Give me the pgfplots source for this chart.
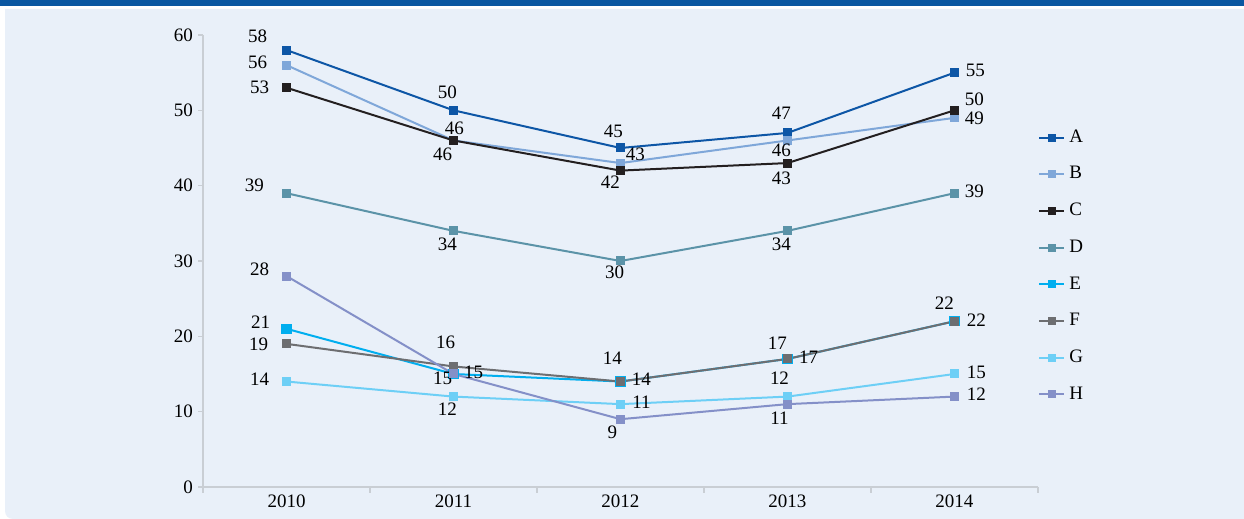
\documentclass[border=0pt]{standalone}
\usepackage{pgfplots}
\pgfplotsset{compat=1.18}
\usepackage{fontspec}
\setmainfont{Liberation Serif}

\definecolor{band}{HTML}{0A57A1}
\definecolor{panel}{HTML}{E9F0F9}
\definecolor{axisgray}{HTML}{C9CED4}
\definecolor{cA}{HTML}{0D56A6}
\definecolor{cB}{HTML}{7FA7D9}
\definecolor{cC}{HTML}{231F20}
\definecolor{cD}{HTML}{5B93A8}
\definecolor{cE}{HTML}{00AEEF}
\definecolor{cF}{HTML}{6D6E71}
\definecolor{cG}{HTML}{6DCFF6}
\definecolor{cH}{HTML}{8490C8}

\pgfplotsset{
  ser/.style={color=#1, line width=1pt, mark=square*, mark size=1.75pt,
    mark options={solid}},
  lbl/.style={
    nodes near coords,
    point meta=explicit,
    visualization depends on={value \thisrow{dx} \as \dx},
    visualization depends on={value \thisrow{dy} \as \dy},
    every node near coord/.append style={anchor=center, text=black,
      xshift=\dx pt, yshift=\dy pt, inner sep=0pt},
  },
}

\begin{document}
\begin{tikzpicture}
% page background, title band and panel
\fill[white] (0,0) rectangle (622pt,259.5pt);
\fill[band] (0,256.5pt) rectangle (622pt,259.5pt);
\fill[panel] (2.5pt,255pt) -- (2.5pt,4pt) arc[start angle=180, end angle=270, radius=4pt]
  -- (622pt,0) -- (622pt,255pt) -- cycle;

\begin{axis}[
  at={(101.5pt,16pt)}, anchor=south west,
  scale only axis, width=417.5pt, height=226pt,
  font=\fontsize{9.5}{11}\selectfont,
  /pgf/number format/assume math mode=true,
  clip=false,
  xmin=-0.5, xmax=4.5, ymin=0, ymax=60,
  xtick={0,1,2,3,4},
  xticklabels={2010,2011,2012,2013,2014},
  minor xtick={-0.5,0.5,1.5,2.5,3.5,4.5},
  ytick={0,10,...,60},
  axis lines*=left,
  axis line style={draw=axisgray, line width=1pt},
  tick align=outside,
  major tick length=2.5pt, minor tick length=3pt,
  major x tick style={draw=none},
  minor x tick style={draw=axisgray, line width=0.6pt},
  major y tick style={draw=axisgray, line width=0.6pt},
  xticklabel style={yshift=2pt},
  yticklabel style={xshift=1pt},
  legend style={at={(1.0,0.80)}, anchor=north west, draw=none, fill=none,
    font=\fontsize{9.5}{11}\selectfont, row sep=6.6pt,
    cells={anchor=west}, inner sep=0pt},
  legend image code/.code={
    \draw[mark repeat=2, mark phase=2, mark size=1.5pt]
      plot coordinates {(0pt,0pt) (6.25pt,0pt) (12.5pt,0pt)};},
]
\addplot[ser=cA, lbl] table[meta=y] {
x y dx dy
0 58 -14.5 7
1 50 -3 9
2 45 -3.5 8.5
3 47 -3 10
4 55 10.5 1
};
\addplot[ser=cB, lbl] table[meta=y] {
x y dx dy
0 56 -14.5 1.5
1 46 0.5 6
2 43 7.5 4.5
3 46 -3 -5
4 49 10 0
};
\addplot[ser=cC, lbl] table[meta=y] {
x y dx dy
0 53 -13.5 0
1 46 -5.5 -7
2 42 -5 -6
3 43 -3 -7.5
4 50 10 5.5
};
\addplot[ser=cD, lbl] table[meta=y] {
x y dx dy
0 39 -16 4
1 34 -3 -6.5
2 30 -3 -5.5
3 34 -3 -6.5
4 39 10 1
};
\addplot[ser=cE, lbl, mark size=2.1pt] table[meta=y] {
x y dx dy
0 21 -13 3.5
1 15 -5.5 -2
2 14 10.5 1
3 17 10.5 1
4 22 11 0.5
};
\addplot[ser=cF, lbl] table[meta=y] {
x y dx dy
0 19 -14 0
1 16 -4 12
2 14 -4 11.5
3 17 -5 8
4 22 -5 9
};
\addplot[ser=cG, lbl] table[meta=y] {
x y dx dy
0 14 -13.5 1
1 12 -3 -6.5
2 11 10.5 1
3 12 -4 9
4 15 11 1
};
\addplot[ser=cH, lbl] table[meta=y] {
x y dx dy
0 28 -13.5 3.5
1 15 10 1
2 9 -4 -6.5
3 11 -4 -7
4 12 11 1
};
\legend{A,B,C,D,E,F,G,H}
\end{axis}
\end{tikzpicture}
\end{document}
